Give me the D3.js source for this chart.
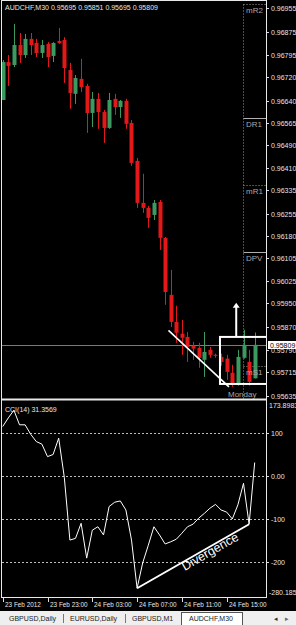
<!DOCTYPE html>
<html lang="en">
<head>
  <meta charset="UTF-8">
  <title>AUDCHF M30</title>
  <script src="https://d3js.org/d3.v7.min.js"></script>
  <style>
    body {
      margin: 0;
      background: #000;
      font-family: "Liberation Sans", Arial, sans-serif;
    }
    svg text {
      font-size: 7px;
      fill: #e6e6e6;
    }
  </style>
</head>
<body>

<svg width="296" height="625"></svg>

<script>
  // M30 bars, 23 Feb 2012 19:00 .. 24 Feb 2012 17:30
  const opens = [0.96642, 0.96771, 0.96761, 0.96829, 0.96795, 0.96850, 0.96836, 0.96802, 0.96833, 0.96792,
    0.96843, 0.96846, 0.96744, 0.96663, 0.96714, 0.96690, 0.96598, 0.96646, 0.96601, 0.96547,
    0.96646, 0.96618, 0.96639, 0.96564, 0.96435, 0.96292, 0.96275, 0.96251, 0.96295, 0.96173,
    0.95979, 0.95887, 0.95847, 0.95836, 0.95806, 0.95799, 0.95758, 0.95792, 0.95775, 0.95768,
    0.95762, 0.95714, 0.95673, 0.95765, 0.95751, 0.95695];
  const highs = [0.96778, 0.96795, 0.96901, 0.96870, 0.96867, 0.96870, 0.96850, 0.96846, 0.96839, 0.96839,
    0.96887, 0.96856, 0.96768, 0.96727, 0.96782, 0.96697, 0.96669, 0.96666, 0.96608, 0.96666,
    0.96663, 0.96642, 0.96646, 0.96574, 0.96445, 0.96391, 0.96282, 0.96302, 0.96302, 0.96176,
    0.96064, 0.95942, 0.95894, 0.95853, 0.95819, 0.95816, 0.95853, 0.95802, 0.95779, 0.95779,
    0.95775, 0.95741, 0.95792, 0.95860, 0.95792, 0.95851];
  const lows = [0.96642, 0.96690, 0.96754, 0.96768, 0.96785, 0.96795, 0.96788, 0.96785, 0.96754, 0.96771,
    0.96833, 0.96700, 0.96612, 0.96629, 0.96669, 0.96530, 0.96550, 0.96544, 0.96496, 0.96544,
    0.96591, 0.96581, 0.96544, 0.96418, 0.96275, 0.96258, 0.96207, 0.96234, 0.96132, 0.95945,
    0.95870, 0.95816, 0.95775, 0.95751, 0.95758, 0.95731, 0.95700, 0.95765, 0.95765, 0.95738,
    0.95690, 0.95666, 0.95670, 0.95762, 0.95670, 0.95695];
  const closes = [0.96771, 0.96758, 0.96829, 0.96795, 0.96850, 0.96829, 0.96802, 0.96829, 0.96788, 0.96836,
    0.96836, 0.96751, 0.96666, 0.96717, 0.96686, 0.96598, 0.96646, 0.96601, 0.96547, 0.96642,
    0.96618, 0.96639, 0.96561, 0.96428, 0.96292, 0.96275, 0.96241, 0.96292, 0.96173, 0.95989,
    0.95887, 0.95850, 0.95833, 0.95802, 0.95796, 0.95765, 0.95785, 0.95775, 0.95772, 0.95751,
    0.95717, 0.95673, 0.95768, 0.95809, 0.95683, 0.95809];

  const cci = [115, 135, 153, 119, 119, 97, 80, 74, 45, 50,
    88, -3, -149, -145, -110, -191, -126, -118, -137, -71,
    -61, -58, -79, -149, -261, -202, -161, -118, -137, -158,
    -153, -147, -133, -118, -112, -98, -87, -75, -66, -79,
    -84, -100, -67, -17, -112, 31.3569];

  const priceTicks = [0.96955, 0.96875, 0.96795, 0.96720, 0.96640, 0.96565, 0.96490, 0.96410, 0.96335,
    0.96255, 0.96180, 0.96105, 0.96025, 0.95950, 0.95870, 0.95790, 0.95715, 0.95635];
  const cciTicks = [100, 0, -100, -200];
  const cciTickLabels = ["100", "0.00", "-100", "-200"];
  const cciMax = 173.8983, cciMin = -280.185;

  const timeTickBars = [0, 8, 16, 24, 32, 40];
  const timeTickLabels = ["23 Feb 2012", "23 Feb 23:00", "24 Feb 03:00", "24 Feb 07:00", "24 Feb 11:00", "24 Feb 15:00"];

  const pivotNames = ["mR2", "DR1", "mR1", "DPV", "mS1"];
  const pivotValues = [0.96967, 0.96581, 0.96353, 0.96125, 0.95738];
  const pivotDotted = [true, false, true, false, true];

  const lastPrice = 0.95809;
  const tabs = ["GBPUSD,Daily", "EURUSD,Daily", "GBPUSD,M1", "AUDCHF,M30"];

  const svg = d3.select("svg");
  const left = 2, right = 266;
  const mainTop = 1, mainBottom = 399, cciTop = 401, cciBottom = 597;

  const x = d3.scaleLinear().domain([0, 45]).range([2.7, 254.7]);
  const y = d3.scaleLinear().domain([0.95635, 0.96955]).range([396, 8]);
  const yc = d3.scaleLinear().domain([cciMin, cciMax]).range([596.5, 401.2]);

  svg.append("rect").attr("width", 296).attr("height", 625).attr("fill", "#000");

  svg.append("clipPath").attr("id", "mainClip")
    .append("rect").attr("x", left).attr("y", mainTop).attr("width", right - left).attr("height", mainBottom - mainTop);
  svg.append("clipPath").attr("id", "cciClip")
    .append("rect").attr("x", left).attr("y", cciTop).attr("width", right - left).attr("height", cciBottom - cciTop);

  const main = svg.append("g").attr("clip-path", "url(#mainClip)");

  // pivot levels (right hand side)
  const pivX0 = 243.5;
  main.append("line")
    .attr("x1", pivX0).attr("x2", pivX0).attr("y1", y(pivotValues[0])).attr("y2", mainBottom)
    .attr("stroke", "#9a9a9a").attr("stroke-dasharray", "1,2");
  pivotValues.forEach((v, i) => {
    main.append("line")
      .attr("x1", pivX0).attr("x2", right).attr("y1", Math.round(y(v)) + 0.5).attr("y2", Math.round(y(v)) + 0.5)
      .attr("stroke", pivotDotted[i] ? "#9a9a9a" : "#b0b0b0")
      .attr("stroke-dasharray", pivotDotted[i] ? "1,2" : null);
  });

  // bid line
  main.append("line")
    .attr("x1", left).attr("x2", right)
    .attr("y1", Math.round(y(lastPrice)) + 0.5).attr("y2", Math.round(y(lastPrice)) + 0.5)
    .attr("stroke", "#7a7a7a");

  // candles
  const bars = d3.range(opens.length).map(i => ({ i, o: opens[i], h: highs[i], l: lows[i], c: closes[i] }));
  const colorOf = d => d.c >= d.o ? "#3c9960" : "#e31818";
  const candle = main.selectAll("g.candle").data(bars).enter().append("g").attr("class", "candle");
  candle.append("line")
    .attr("x1", d => Math.round(x(d.i)) + 0.5).attr("x2", d => Math.round(x(d.i)) + 0.5)
    .attr("y1", d => y(d.h)).attr("y2", d => y(d.l))
    .attr("stroke", colorOf);
  candle.append("rect")
    .attr("x", d => Math.round(x(d.i)) - 1.5).attr("width", 4)
    .attr("y", d => y(Math.max(d.o, d.c)))
    .attr("height", d => Math.max(1, Math.abs(y(d.o) - y(d.c))))
    .attr("fill", colorOf);

  // pivot labels over the candles
  pivotValues.forEach((v, i) => {
    main.append("text")
      .attr("x", 246).attr("y", y(v) + 9)
      .style("fill", "#a8a8a8").style("font-size", "8px")
      .text(pivotNames[i]);
  });

  // annotations on price
  main.append("line")
    .attr("x1", x(29.6)).attr("y1", y(0.95858)).attr("x2", x(40.4)).attr("y2", y(0.95666))
    .attr("stroke", "#fff").attr("stroke-width", 1.6);
  main.append("rect")
    .attr("x", x(38.8)).attr("y", y(0.95836))
    .attr("width", 268 - x(38.8)).attr("height", y(0.95676) - y(0.95836))
    .attr("fill", "none").attr("stroke", "#fff").attr("stroke-width", 2);
  const arrowX = x(41.7);
  main.append("line")
    .attr("x1", arrowX).attr("x2", arrowX).attr("y1", y(0.95836)).attr("y2", y(0.95940))
    .attr("stroke", "#fff").attr("stroke-width", 2);
  main.append("path")
    .attr("d", `M${arrowX - 3.5},${y(0.95935)} L${arrowX},${y(0.95952)} L${arrowX + 3.5},${y(0.95935)} Z`)
    .attr("fill", "#fff");
  main.append("text")
    .attr("x", 228).attr("y", 397)
    .style("fill", "#a8a8a8").style("font-size", "8px")
    .text("Monday");

  // header
  svg.append("text").attr("x", 5).attr("y", 10)
    .text("AUDCHF,M30  0.95695 0.95851 0.95695 0.95809");

  // price axis
  const pAxis = svg.append("g");
  priceTicks.forEach(t => {
    const ty = Math.round(y(t)) + 0.5;
    pAxis.append("line").attr("x1", right).attr("x2", right + 3).attr("y1", ty).attr("y2", ty).attr("stroke", "#ddd");
    pAxis.append("text").attr("x", 271).attr("y", ty + 2.5).text(t.toFixed(5));
  });
  const ly = Math.round(y(lastPrice));
  pAxis.append("rect").attr("x", 268).attr("y", ly - 4).attr("width", 28).attr("height", 8).attr("fill", "#fff");
  pAxis.append("text").attr("x", 270).attr("y", ly + 2.6).style("fill", "#000").text(lastPrice.toFixed(5));

  // CCI window
  const sub = svg.append("g").attr("clip-path", "url(#cciClip)");
  cciTicks.forEach(t => {
    sub.append("line")
      .attr("x1", left).attr("x2", right).attr("y1", Math.round(yc(t)) + 0.5).attr("y2", Math.round(yc(t)) + 0.5)
      .attr("stroke", "#bdbdbd").attr("stroke-dasharray", "2,2");
  });
  sub.append("path")
    .datum(cci)
    .attr("d", d3.line().x((d, i) => x(i)).y(d => yc(d)))
    .attr("fill", "none").attr("stroke", "#fff").attr("stroke-width", 1);

  // divergence line between the two CCI lows
  sub.append("line")
    .attr("x1", x(24)).attr("y1", yc(cci[24])).attr("x2", x(44)).attr("y2", yc(cci[44]))
    .attr("stroke", "#fff").attr("stroke-width", 1.8);
  const ang = Math.atan2(yc(cci[44]) - yc(cci[24]), x(44) - x(24)) * 180 / Math.PI;
  sub.append("text")
    .attr("transform", `translate(${(x(24) + x(44)) / 2 + 19},${(yc(cci[24]) + yc(cci[44])) / 2 - 1}) rotate(${ang})`)
    .attr("text-anchor", "middle")
    .style("font-size", "12.5px").style("fill", "#fff")
    .text("Divergence");

  svg.append("text").attr("x", 5).attr("y", 412).text("CCI(14) 31.3569");

  const cAxis = svg.append("g");
  cciTicks.forEach((t, i) => {
    const ty = Math.round(yc(t)) + 0.5;
    cAxis.append("line").attr("x1", right).attr("x2", right + 3).attr("y1", ty).attr("y2", ty).attr("stroke", "#ddd");
    cAxis.append("text").attr("x", 271).attr("y", ty + 2.5).text(cciTickLabels[i]);
  });
  cAxis.append("text").attr("x", 269).attr("y", 408).text(cciMax.toFixed(4));
  cAxis.append("text").attr("x", 269).attr("y", 595).text(cciMin.toFixed(3));

  // frames
  const frame = svg.append("g").attr("stroke", "#e8e8e8").attr("fill", "none");
  frame.append("line").attr("x1", 1.5).attr("x2", 1.5).attr("y1", 0).attr("y2", cciBottom + 1);
  frame.append("line").attr("x1", right + 0.5).attr("x2", right + 0.5).attr("y1", 0).attr("y2", cciBottom + 1);
  frame.append("line").attr("x1", 1).attr("x2", right + 1).attr("y1", 0.5).attr("y2", 0.5);
  frame.append("line").attr("x1", 1).attr("x2", right + 1).attr("y1", mainBottom + 0.5).attr("y2", mainBottom + 0.5).attr("stroke-width", 2);
  frame.append("line").attr("x1", 1).attr("x2", right + 1).attr("y1", cciBottom + 0.5).attr("y2", cciBottom + 0.5);

  // time axis
  timeTickBars.forEach((b, i) => {
    const tx = Math.round(x(b)) + 0.5;
    svg.append("line").attr("x1", tx).attr("x2", tx).attr("y1", cciBottom + 1).attr("y2", cciBottom + 5).attr("stroke", "#ddd");
    svg.append("text").attr("x", tx + 1.5).attr("y", 607).style("font-size", "6.4px").text(timeTickLabels[i]);
  });

  // tab strip
  const tabY = 611;
  svg.append("rect").attr("x", 0).attr("y", tabY).attr("width", 296).attr("height", 14).attr("fill", "#efefef");
  const tabX = [9, 70, 132, 189];
  tabs.forEach((t, i) => {
    if (i === tabs.length - 1) {
      svg.append("rect").attr("x", 181.5).attr("y", tabY + 1.5).attr("width", 61).attr("height", 13)
        .attr("fill", "#fff").attr("stroke", "#555");
    }
    svg.append("text").attr("x", tabX[i]).attr("y", tabY + 10)
      .style("fill", "#222").text(t);
  });
  [63.5, 125.5].forEach(sx => {
    svg.append("line").attr("x1", sx).attr("x2", sx).attr("y1", tabY + 3).attr("y2", tabY + 12).attr("stroke", "#777");
  });
  svg.append("text").attr("x", 274).attr("y", tabY + 10).style("fill", "#333").style("font-family", "DejaVu Sans").text("◂");
  svg.append("text").attr("x", 285).attr("y", tabY + 10).style("fill", "#666").style("font-family", "DejaVu Sans").text("▸");
</script>

</body>
</html>
